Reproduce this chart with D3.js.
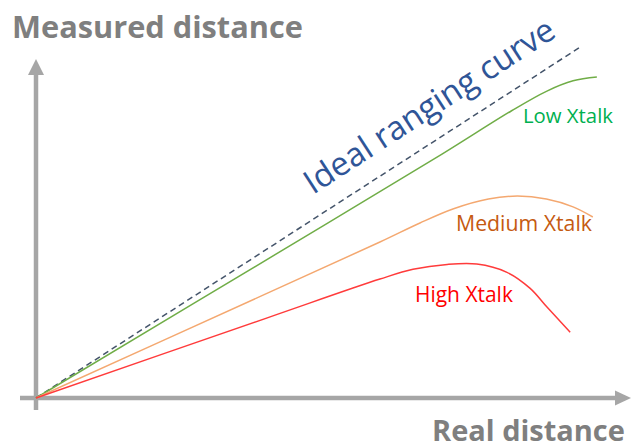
<!DOCTYPE html>
<html>
<head>
<meta charset="utf-8">
<script src="https://cdn.jsdelivr.net/npm/d3@7"></script>
<style>
  html, body { margin: 0; padding: 0; background: #fff; }
  svg { display: block; }
  text { font-family: "Open Sans", "Noto Sans", sans-serif; }
</style>
</head>
<body>
<svg id="chart" width="634" height="448"></svg>
<script>
// ---- data (real distance -> measured distance, arbitrary units 0..100) ----
const idealX = [0, 94.1];
const idealY = [0, 94.1];

const lowX  = [0, 50, 70, 82, 88, 92.6, 96.7];
const lowY  = [0, 46.5, 65.2, 76.8, 82.0, 84.8, 85.8];

const medX  = [0, 40, 59.3, 66.2, 72, 78, 83, 88, 92.6, 96.0];
const medY  = [0, 28.1, 41.7, 46.8, 50.6, 53.2, 54.0, 53.2, 51.1, 48.4];

const highX = [0, 40, 59.3, 65.0, 70.9, 76.0, 81.2, 85.2, 88.1, 92.1];
const highY = [0, 21.5, 31.8, 34.4, 35.7, 35.8, 33.6, 29.3, 24.3, 17.6];

const labels = ["Ideal ranging curve", "Low Xtalk", "Medium Xtalk", "High Xtalk"];
const axisTitles = ["Measured distance", "Real distance"];

// ---- layout ----
const svg = d3.select("#chart");
const x = d3.scaleLinear().domain([0, 100]).range([36, 616]);
const y = d3.scaleLinear().domain([0, 100]).range([398, 24]);

const axisColor = "#a6a6a6";
const titleColor = "#7f7f7f";

function fit(sel, targetW) {
  const n = sel.node();
  const fs = parseFloat(sel.attr("font-size"));
  const w = n.getComputedTextLength();
  sel.attr("font-size", fs * targetW / w);
  return sel;
}

// axes (arrows)
svg.append("line")
  .attr("x1", x(0)).attr("y1", 410)
  .attr("x2", x(0)).attr("y2", 72)
  .attr("stroke", axisColor).attr("stroke-width", 4.5);
svg.append("path")
  .attr("d", `M${x(0)},59 L${x(0) - 8},75 L${x(0) + 8},75 Z`)
  .attr("fill", axisColor);

svg.append("line")
  .attr("x1", 20).attr("y1", y(0))
  .attr("x2", 618).attr("y2", y(0))
  .attr("stroke", axisColor).attr("stroke-width", 4.5);
svg.append("path")
  .attr("d", `M631,${y(0)} L615,${y(0) - 7.5} L615,${y(0) + 7.5} Z`)
  .attr("fill", axisColor);

// axis titles
fit(svg.append("text")
  .attr("x", 12).attr("y", 38)
  .attr("font-size", 29).attr("font-weight", "bold")
  .attr("fill", titleColor)
  .text(axisTitles[0]), 291);

fit(svg.append("text")
  .attr("x", 432).attr("y", 441)
  .attr("font-size", 30).attr("font-weight", "bold")
  .attr("fill", titleColor)
  .text(axisTitles[1]), 193);

// lines
const line = d3.line().x(d => x(d[0])).y(d => y(d[1])).curve(d3.curveCatmullRom.alpha(0.5));
const zip = (a, b) => a.map((v, i) => [v, b[i]]);

svg.append("path")
  .attr("d", d3.line().x(d => x(d[0])).y(d => y(d[1]))(zip(idealX, idealY)))
  .attr("fill", "none").attr("stroke", "#44546a")
  .attr("stroke-width", 1.5).attr("stroke-dasharray", "6,4");

svg.append("path").attr("d", line(zip(lowX, lowY)))
  .attr("fill", "none").attr("stroke", "#70ad47").attr("stroke-width", 1.5);
svg.append("path").attr("d", line(zip(medX, medY)))
  .attr("fill", "none").attr("stroke", "#f4a870").attr("stroke-width", 1.5);
svg.append("path").attr("d", line(zip(highX, highY)))
  .attr("fill", "none").attr("stroke", "#ff3b3b").attr("stroke-width", 1.5);

// labels
fit(svg.append("text")
  .attr("transform", "translate(313,195) rotate(-33)")
  .attr("font-size", 30).attr("fill", "#2f5597")
  .text(labels[0]), 292);

fit(svg.append("text")
  .attr("x", 523).attr("y", 123)
  .attr("font-size", 20).attr("fill", "#00b050")
  .text(labels[1]), 90);

fit(svg.append("text")
  .attr("x", 456).attr("y", 231)
  .attr("font-size", 20).attr("fill", "#c55a11")
  .text(labels[2]), 136);

fit(svg.append("text")
  .attr("x", 415).attr("y", 302)
  .attr("font-size", 20).attr("fill", "#ff0000")
  .text(labels[3]), 98);
</script>
</body>
</html>
